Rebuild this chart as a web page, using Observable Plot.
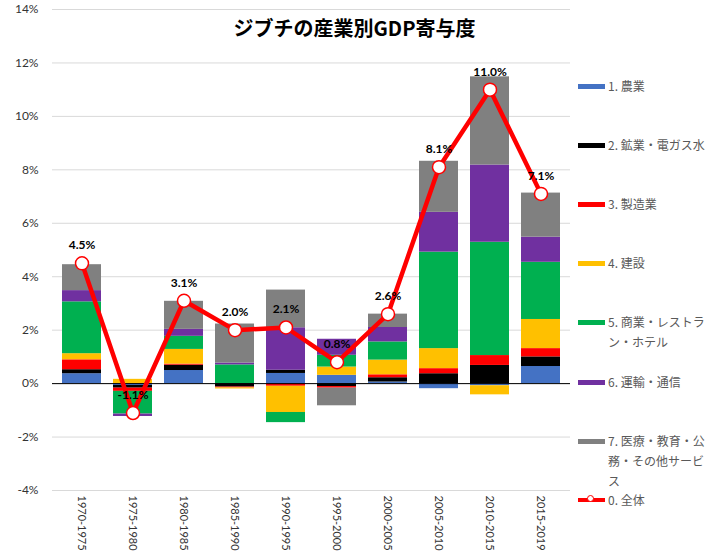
<!DOCTYPE html>
<html>
<head>
<meta charset="utf-8">
<script src="https://cdn.jsdelivr.net/npm/d3@7"></script>
<script src="https://cdn.jsdelivr.net/npm/@observablehq/plot@0.6"></script>
<style>
  html, body { margin: 0; padding: 0; background: #fff; }
  #wrap { position: relative; width: 709px; height: 553px; font-family: Lato, "Noto Sans CJK JP", sans-serif; }
  #wrap svg { position: absolute; left: 0; top: 0; }
  #title { position: absolute; left: 0; top: 15px; width: 709px; text-align: center; font-family: "Noto Sans CJK JP", sans-serif; font-weight: bold; font-size: 20px; line-height: 26px; color: #000; }
  .item { position: absolute; left: 578px; width: 131px; display: flex; align-items: flex-start; font-family: "Noto Sans CJK JP", sans-serif; font-size: 12px; line-height: 20px; color: #595959; }
  .sw { flex: 0 0 27px; height: 5px; margin-top: 8px; margin-right: 3px; position: relative; }
  .lbl { width: 98px; word-break: break-all; }
</style>
</head>
<body>
<div id="wrap"><div id="title"></div></div>
<script>
const title = "ジブチの産業別GDP寄与度";
const periods = ["1970-1975","1975-1980","1980-1985","1985-1990","1990-1995","1995-2000","2000-2005","2005-2010","2010-2015","2015-2019"];
const seriesNames = ["1. 農業","2. 鉱業・電ガス水","3. 製造業","4. 建設","5. 商業・レストラン・ホテル","6. 運輸・通信","7. 医療・教育・公務・その他サービス"];
const totalName = "0. 全体";
const seriesColors = ["#4472C4","#000000","#FF0000","#FFC000","#00B050","#7030A0","#808080"];
const agri      = [0.37, -0.07, 0.49,  0.00,  0.38,  0.31, 0.06, -0.19, -0.08, 0.64];
const mining    = [0.15, -0.10, 0.20, -0.13,  0.12, -0.11, 0.16,  0.37,  0.68, 0.36];
const mfg       = [0.37, -0.12, 0.04, -0.03, -0.10, -0.06, 0.11,  0.19,  0.37, 0.31];
const constr    = [0.23,  0.16, 0.55, -0.04, -0.98,  0.31, 0.55,  0.75, -0.34, 1.09];
const trade     = [1.94, -0.85, 0.49,  0.70, -0.38,  0.44, 0.68,  3.61,  4.24, 2.14];
const transport = [0.42, -0.09, 0.26,  0.07,  1.59,  0.60, 0.54,  1.49,  2.89, 0.94];
const other     = [0.97,  0.00, 1.05,  1.46,  1.41, -0.66, 0.50,  1.91,  3.30, 1.65];
const total     = [4.5, -1.1, 3.1, 2.0, 2.1, 0.8, 2.6, 8.1, 11.0, 7.1];
const yTicks = [-4, -2, 0, 2, 4, 6, 8, 10, 12, 14];

const seriesValues = [agri, mining, mfg, constr, trade, transport, other];
const bars = [];
seriesValues.forEach((vals, si) => {
  vals.forEach((v, pi) => bars.push({period: periods[pi], series: seriesNames[si], value: v}));
});
const totals = periods.map((p, i) => ({period: p, value: total[i]}));
const pct = d => d + "%";

const chart = Plot.plot({
  width: 709,
  height: 553,
  marginLeft: 52,
  marginRight: 139,
  marginTop: 9,
  marginBottom: 63,
  style: {fontFamily: "Lato, 'Noto Sans CJK JP', sans-serif", background: "transparent", color: "#333"},
  x: {domain: periods, paddingInner: 0.23, paddingOuter: 0.115, label: null},
  y: {domain: [-4, 14], label: null},
  color: {domain: seriesNames, range: seriesColors},
  marks: [
    Plot.gridY(yTicks, {stroke: "#d9d9d9", strokeOpacity: 1}),
    Plot.axisY(yTicks, {tickSize: 0, tickPadding: 14, tickFormat: pct, fontSize: 12, label: null}),
    Plot.axisX({tickSize: 0, tickRotate: 90, tickPadding: 5, fontSize: 11, label: null}),
    Plot.barY(bars, Plot.stackY({x: "period", y: "value", fill: "series", order: null})),
    Plot.ruleY([0], {stroke: "#000", strokeWidth: 1}),
    Plot.line(totals, {x: "period", y: "value", stroke: "#FF0000", strokeWidth: 4.5}),
    Plot.dot(totals, {x: "period", y: "value", r: 6.5, fill: "#fff", stroke: "#FF0000", strokeWidth: 1.5}),
    Plot.text(totals, {x: "period", y: "value", text: d => d.value.toFixed(1) + "%", dy: -18, fontSize: 12, fontWeight: "bold", fill: "#000"})
  ]
});

const wrap = document.getElementById("wrap");
document.getElementById("title").textContent = title;
wrap.insertBefore(chart, wrap.firstChild);

const legendNames = [...seriesNames, totalName];
legendNames.forEach((name, i) => {
  const item = document.createElement("div");
  item.className = "item";
  item.style.top = (86 + i * 59.1 - 10) + "px";
  const sw = document.createElement("div");
  sw.className = "sw";
  if (i < seriesNames.length) {
    sw.style.background = seriesColors[i];
  } else {
    sw.style.height = "4px";
    sw.style.marginTop = "8px";
    sw.style.background = "#FF0000";
    const c = document.createElement("div");
    c.style.cssText = "position:absolute;left:9px;top:-3px;width:7px;height:7px;border-radius:50%;background:#fff;border:1px solid #FF0000;box-sizing:border-box;";
    sw.appendChild(c);
  }
  const lbl = document.createElement("div");
  lbl.className = "lbl";
  lbl.textContent = name;
  item.appendChild(sw);
  item.appendChild(lbl);
  wrap.appendChild(item);
});
</script>
</body>
</html>
